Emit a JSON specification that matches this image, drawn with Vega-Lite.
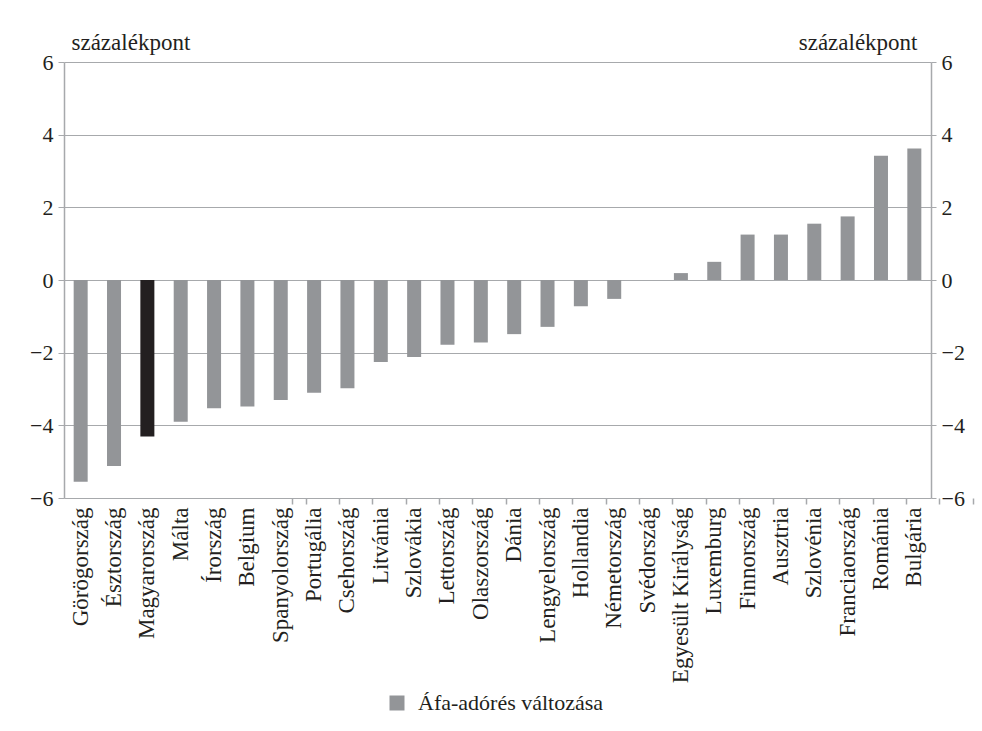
{
  "$schema": "https://vega.github.io/schema/vega-lite/v6.json",
  "width": 867,
  "height": 436,
  "autosize": {"type": "none"},
  "padding": {"left": 64, "top": 62, "right": 51, "bottom": 233},
  "background": "white",
  "config": {
    "view": {"stroke": null},
    "font": "Liberation Serif",
    "axis": {
      "labelFont": "Liberation Serif",
      "labelFontSize": 22,
      "labelColor": "#231f20",
      "titleFont": "Liberation Serif",
      "titleFontSize": 23,
      "titleFontWeight": "normal",
      "titleColor": "#231f20"
    },
    "legend": {
      "labelFont": "Liberation Serif",
      "labelFontSize": 22,
      "labelColor": "#231f20",
      "labelLimit": 400
    }
  },
  "data": {
    "values": [
      {"country": "Görögország", "value": -5.55, "series": "Áfa-adórés változása"},
      {"country": "Észtország", "value": -5.12, "series": "Áfa-adórés változása"},
      {"country": "Magyarország", "value": -4.31, "series": "Áfa-adórés változása"},
      {"country": "Málta", "value": -3.9, "series": "Áfa-adórés változása"},
      {"country": "Írország", "value": -3.53, "series": "Áfa-adórés változása"},
      {"country": "Belgium", "value": -3.48, "series": "Áfa-adórés változása"},
      {"country": "Spanyolország", "value": -3.3, "series": "Áfa-adórés változása"},
      {"country": "Portugália", "value": -3.1, "series": "Áfa-adórés változása"},
      {"country": "Csehország", "value": -2.98, "series": "Áfa-adórés változása"},
      {"country": "Litvánia", "value": -2.26, "series": "Áfa-adórés változása"},
      {"country": "Szlovákia", "value": -2.12, "series": "Áfa-adórés változása"},
      {"country": "Lettország", "value": -1.78, "series": "Áfa-adórés változása"},
      {"country": "Olaszország", "value": -1.72, "series": "Áfa-adórés változása"},
      {"country": "Dánia", "value": -1.49, "series": "Áfa-adórés változása"},
      {"country": "Lengyelország", "value": -1.29, "series": "Áfa-adórés változása"},
      {"country": "Hollandia", "value": -0.72, "series": "Áfa-adórés változása"},
      {"country": "Németország", "value": -0.52, "series": "Áfa-adórés változása"},
      {"country": "Svédország", "value": 0, "series": "Áfa-adórés változása"},
      {"country": "Egyesült Királyság", "value": 0.19, "series": "Áfa-adórés változása"},
      {"country": "Luxemburg", "value": 0.5, "series": "Áfa-adórés változása"},
      {"country": "Finnország", "value": 1.25, "series": "Áfa-adórés változása"},
      {"country": "Ausztria", "value": 1.25, "series": "Áfa-adórés változása"},
      {"country": "Szlovénia", "value": 1.55, "series": "Áfa-adórés változása"},
      {"country": "Franciaország", "value": 1.75, "series": "Áfa-adórés változása"},
      {"country": "Románia", "value": 3.42, "series": "Áfa-adórés változása"},
      {"country": "Bulgária", "value": 3.62, "series": "Áfa-adórés változása"}
    ]
  },
  "layer": [
    {
      "mark": {"type": "bar"},
      "encoding": {
        "x": {
          "field": "country",
          "type": "nominal",
          "sort": null,
          "scale": {"paddingInner": 0.58, "paddingOuter": 0.29},
          "axis": {
            "orient": "bottom",
            "title": null,
            "labelAngle": -90,
            "labelPadding": 9,
            "labelFontSize": 23,
            "ticks": false,
            "domain": false,
            "grid": false
          }
        },
        "y": {
          "field": "value",
          "type": "quantitative",
          "scale": {"domain": [-6, 6], "nice": false, "zero": false},
          "axis": {
            "orient": "left",
            "values": [-6, -4, -2, 0, 2, 4, 6],
            "grid": true,
            "gridColor": "#a7a9ac",
            "gridWidth": 1,
            "domainColor": "#a7a9ac",
            "domainWidth": 1.5,
            "tickColor": "#a7a9ac",
            "tickSize": 6,
            "labelPadding": 5,
            "title": "százalékpont",
            "titleAngle": 0,
            "titleX": 7,
            "titleY": -13,
            "titleAlign": "left",
            "titleBaseline": "alphabetic"
          }
        },
        "color": {
          "condition": {"test": "datum.country === 'Magyarország'", "value": "#231f20"},
          "field": "series",
          "type": "nominal",
          "scale": {"range": ["#939598"]},
          "legend": {
            "title": null,
            "orient": "none",
            "legendX": 322,
            "legendY": 630,
            "symbolType": "square",
            "symbolSize": 225,
            "symbolStrokeWidth": 0,
            "symbolOpacity": 1,
            "labelOffset": 10
          }
        }
      }
    },
    {
      "mark": {"type": "bar", "opacity": 0},
      "encoding": {
        "x": {
          "field": "country",
          "type": "nominal",
          "sort": null,
          "axis": {
            "orient": "bottom",
            "position": 218,
            "title": null,
            "labels": false,
            "domain": false,
            "grid": false,
            "ticks": true,
            "tickBand": "extent",
            "tickSize": 6,
            "tickColor": "#a7a9ac",
            "tickWidth": 1.5
          }
        },
        "y": {
          "field": "value",
          "type": "quantitative",
          "axis": {
            "orient": "right",
            "values": [-6, -4, -2, 0, 2, 4, 6],
            "grid": false,
            "domainColor": "#a7a9ac",
            "domainWidth": 1.5,
            "tickColor": "#a7a9ac",
            "tickSize": 5,
            "labelPadding": 5,
            "title": "százalékpont",
            "titleAngle": 0,
            "titleX": -14,
            "titleY": -13,
            "titleAlign": "right",
            "titleBaseline": "alphabetic"
          }
        }
      }
    }
  ],
  "resolve": {"axis": {"x": "independent", "y": "independent"}}
}
